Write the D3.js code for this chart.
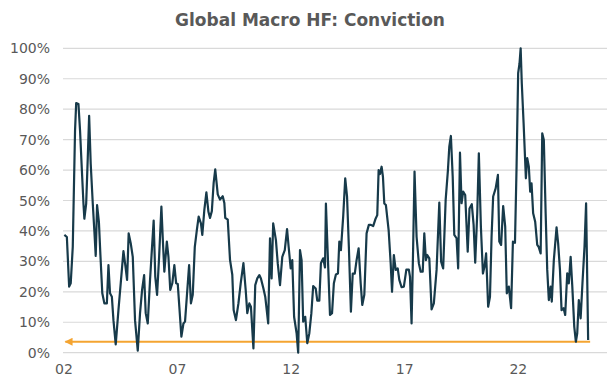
<!DOCTYPE html>
<html>
<head>
<meta charset="utf-8">
<script src="https://cdn.jsdelivr.net/npm/d3@7"></script>
<style>
  body { margin: 0; background: #fff; }
  svg { display: block; }
</style>
</head>
<body>
<div id="chart"></div>
<script>
// Global Macro HF: Conviction
const title = "Global Macro HF: Conviction";

// dates as fractional years, values in %
const dates = [
  2002.02, 2002.13, 2002.23, 2002.30, 2002.39, 2002.49, 2002.54, 2002.64, 2002.71, 2002.79,
  2002.86, 2002.90, 2002.98, 2003.05, 2003.11, 2003.18, 2003.27, 2003.34, 2003.40, 2003.46,
  2003.54, 2003.61, 2003.69, 2003.78, 2003.89, 2003.96, 2004.03, 2004.11, 2004.18, 2004.28,
  2004.40, 2004.50, 2004.62, 2004.71, 2004.78, 2004.85, 2004.94, 2005.03, 2005.13, 2005.25,
  2005.35, 2005.44, 2005.53, 2005.60, 2005.69, 2005.79, 2005.87, 2005.95, 2006.02, 2006.10,
  2006.19, 2006.29, 2006.36, 2006.42, 2006.53, 2006.60, 2006.68, 2006.77, 2006.86, 2006.94,
  2007.01, 2007.08, 2007.17, 2007.26, 2007.33, 2007.42, 2007.51, 2007.59, 2007.67, 2007.76,
  2007.85, 2007.93, 2008.03, 2008.09, 2008.18, 2008.27, 2008.36, 2008.43, 2008.51, 2008.59,
  2008.66, 2008.77, 2008.87, 2008.99, 2009.06, 2009.10, 2009.21, 2009.31, 2009.41, 2009.47,
  2009.57, 2009.68, 2009.78, 2009.90, 2010.00, 2010.07, 2010.16, 2010.23, 2010.34, 2010.42,
  2010.51, 2010.60, 2010.67, 2010.78, 2010.86, 2010.99, 2011.07, 2011.14, 2011.21, 2011.33,
  2011.41, 2011.51, 2011.61, 2011.72, 2011.82, 2011.89, 2011.98, 2012.05, 2012.13, 2012.24,
  2012.31, 2012.39, 2012.46, 2012.53, 2012.62, 2012.71, 2012.80, 2012.89, 2012.97, 2013.08,
  2013.15, 2013.24, 2013.31, 2013.41, 2013.49, 2013.53, 2013.62, 2013.71, 2013.80, 2013.88,
  2013.97, 2014.06, 2014.12, 2014.19, 2014.29, 2014.38, 2014.46, 2014.54, 2014.63, 2014.71,
  2014.80, 2014.88, 2014.97, 2015.06, 2015.13, 2015.22, 2015.32, 2015.42, 2015.51, 2015.61,
  2015.72, 2015.79, 2015.85, 2015.91, 2015.98, 2016.04, 2016.10, 2016.17, 2016.29, 2016.38,
  2016.44, 2016.52, 2016.60, 2016.69, 2016.76, 2016.86, 2016.96, 2017.07, 2017.18, 2017.23,
  2017.30, 2017.37, 2017.43, 2017.52, 2017.62, 2017.70, 2017.79, 2017.86, 2017.93, 2017.99,
  2018.08, 2018.18, 2018.28, 2018.40, 2018.52, 2018.60, 2018.69, 2018.80, 2018.90, 2018.96,
  2019.03, 2019.11, 2019.18, 2019.28, 2019.35, 2019.43, 2019.50, 2019.57, 2019.66, 2019.77,
  2019.85, 2019.95, 2020.03, 2020.10, 2020.19, 2020.26, 2020.35, 2020.44, 2020.51, 2020.58,
  2020.67, 2020.75, 2020.82, 2020.89, 2021.00, 2021.10, 2021.16, 2021.24, 2021.33, 2021.42,
  2021.49, 2021.58, 2021.68, 2021.76, 2021.85, 2021.92, 2021.99, 2022.05, 2022.10, 2022.15,
  2022.23, 2022.33, 2022.39, 2022.46, 2022.52, 2022.58, 2022.65, 2022.74, 2022.83, 2022.89,
  2022.98, 2023.05, 2023.12, 2023.20, 2023.27, 2023.34, 2023.42, 2023.47, 2023.56, 2023.68,
  2023.75, 2023.83, 2023.90, 2023.99, 2024.06, 2024.15, 2024.22, 2024.30, 2024.37, 2024.46,
  2024.53, 2024.59, 2024.66, 2024.74, 2024.82, 2024.91, 2024.98, 2025.07
];

const conviction = [
  38.7, 38.0, 21.7, 22.8, 34.8, 73.0, 82.0, 81.7, 73.0, 60.0,
  49.0, 44.0, 49.0, 64.0, 77.8, 62.0, 49.0, 40.0, 31.8, 48.5,
  43.0, 31.5, 19.5, 16.2, 16.2, 28.8, 19.5, 18.4, 10.7, 2.7,
  14.0, 22.8, 33.4, 28.3, 23.9, 39.2, 36.0, 31.5, 10.7, 0.7,
  13.0, 20.6, 25.5, 13.0, 9.6, 23.9, 33.7, 43.4, 25.0, 19.0,
  31.5, 48.0, 36.0, 26.6, 36.5, 31.5, 20.6, 22.8, 28.8, 22.8,
  22.6, 15.0, 5.3, 9.6, 10.2, 19.5, 28.8, 16.2, 19.0, 34.8,
  40.3, 44.7, 42.5, 38.7, 46.9, 52.7, 46.3, 44.3, 46.5, 55.8,
  60.2, 52.0, 50.3, 51.4, 49.2, 44.3, 43.7, 30.5, 25.6, 14.0,
  10.7, 16.2, 22.8, 29.4, 20.6, 13.0, 16.2, 15.1, 1.4, 22.2,
  24.4, 25.5, 24.4, 21.1, 18.4, 9.6, 37.6, 24.4, 42.5, 37.0,
  29.4, 22.2, 31.5, 33.7, 40.6, 34.8, 27.7, 30.4, 11.8, 6.4,
  0.0, 33.7, 30.4, 10.2, 11.8, 3.1, 6.4, 13.0, 21.9, 21.1,
  17.1, 17.1, 29.4, 31.0, 28.0, 49.0, 30.4, 12.4, 13.0, 22.8,
  25.7, 26.0, 36.5, 33.7, 44.7, 57.3, 51.3, 34.8, 13.5, 26.0,
  26.0, 30.4, 34.3, 22.8, 15.7, 19.0, 39.2, 42.0, 42.0, 41.6,
  44.1, 45.2, 60.0, 58.7, 61.1, 57.8, 49.0, 48.5, 40.3, 29.4,
  20.0, 32.1, 27.2, 27.7, 23.9, 21.5, 21.7, 27.3, 27.3, 25.0,
  9.6, 34.8, 59.5, 38.1, 29.4, 26.6, 26.6, 39.2, 30.4, 32.1,
  31.0, 14.2, 16.2, 27.2, 49.3, 29.9, 27.7, 50.2, 60.0, 67.7,
  71.2, 57.8, 38.7, 37.6, 27.7, 65.7, 49.1, 52.9, 51.8, 33.2,
  47.4, 48.8, 42.0, 29.6, 45.8, 65.5, 41.4, 26.0, 28.3, 32.6,
  15.1, 18.4, 38.1, 51.3, 54.0, 58.4, 36.5, 35.4, 48.2, 41.4,
  19.5, 21.7, 14.6, 36.5, 36.1, 61.1, 91.8, 95.0, 100.0, 88.5,
  75.4, 57.3, 63.9, 61.1, 52.9, 55.6, 45.8, 43.0, 35.4, 34.8,
  32.6, 72.1, 69.9, 45.8, 27.2, 17.3, 21.7, 16.8, 30.4, 41.2,
  35.9, 27.2, 14.0, 14.6, 12.4, 26.1, 22.8, 31.5, 22.2, 8.5,
  3.6, 6.4, 17.3, 11.3, 22.8, 34.8, 49.1, 4.2
];

const yTicks = [0, 10, 20, 30, 40, 50, 60, 70, 80, 90, 100];
const xTickYears = [2002, 2007, 2012, 2017, 2022];
const xTickLabels = ["02", "07", "12", "17", "22"];
const arrowLevel = 3.6;

const width = 615, height = 392;
const margin = { top: 48.3, right: 8, bottom: 39.3, left: 63 };

const svg = d3.select("#chart").append("svg")
  .attr("width", width)
  .attr("height", height);

const x = d3.scaleLinear()
  .domain([2001.96, 2025.9])
  .range([margin.left, width - margin.right]);

const y = d3.scaleLinear()
  .domain([0, 100])
  .range([height - margin.bottom, margin.top]);

const font = "'DejaVu Sans', Verdana, sans-serif";
const textColor = "#595959";

// title
svg.append("text")
  .attr("x", 310)
  .attr("y", 26)
  .attr("text-anchor", "middle")
  .attr("font-family", font)
  .attr("font-weight", "bold")
  .attr("font-size", 17)
  .attr("fill", textColor)
  .text(title);

// gridlines
svg.append("g")
  .selectAll("line")
  .data(yTicks)
  .join("line")
  .attr("x1", margin.left)
  .attr("x2", width - margin.right)
  .attr("y1", d => y(d))
  .attr("y2", d => y(d))
  .attr("stroke", "#d9d9d9")
  .attr("stroke-width", 1.2);

// y labels
svg.append("g")
  .selectAll("text")
  .data(yTicks)
  .join("text")
  .attr("x", 50)
  .attr("y", d => y(d))
  .attr("dy", "0.36em")
  .attr("text-anchor", "end")
  .attr("font-family", font)
  .attr("font-size", 14)
  .attr("fill", textColor)
  .text(d => d + "%");

// x labels
svg.append("g")
  .selectAll("text")
  .data(xTickYears)
  .join("text")
  .attr("x", d => x(d))
  .attr("y", 374)
  .attr("text-anchor", "middle")
  .attr("font-family", font)
  .attr("font-size", 14)
  .attr("fill", textColor)
  .text((d, i) => xTickLabels[i]);

// orange arrow pointing left along the current level
const arrowColor = "#f4a431";
svg.append("defs").append("marker")
  .attr("id", "head")
  .attr("viewBox", "0 0 10 10")
  .attr("refX", 9)
  .attr("refY", 5)
  .attr("markerWidth", 4.5)
  .attr("markerHeight", 4)
  .attr("markerUnits", "strokeWidth")
  .attr("orient", "auto")
  .append("path")
  .attr("d", "M0,0 L10,5 L0,10 Z")
  .attr("fill", arrowColor);

svg.append("line")
  .attr("x1", x(dates[dates.length - 1]) + 2)
  .attr("x2", x(dates[0]) + 1)
  .attr("y1", y(arrowLevel))
  .attr("y2", y(arrowLevel))
  .attr("stroke", arrowColor)
  .attr("stroke-width", 2)
  .attr("marker-end", "url(#head)");

// series line
const series = dates.map((d, i) => ({ date: d, value: conviction[i] }));
const line = d3.line()
  .x(d => x(d.date))
  .y(d => y(d.value));

svg.append("path")
  .datum(series)
  .attr("d", line)
  .attr("fill", "none")
  .attr("stroke", "#173a4a")
  .attr("stroke-width", 2.2)
  .attr("stroke-linejoin", "round");
</script>
</body>
</html>
